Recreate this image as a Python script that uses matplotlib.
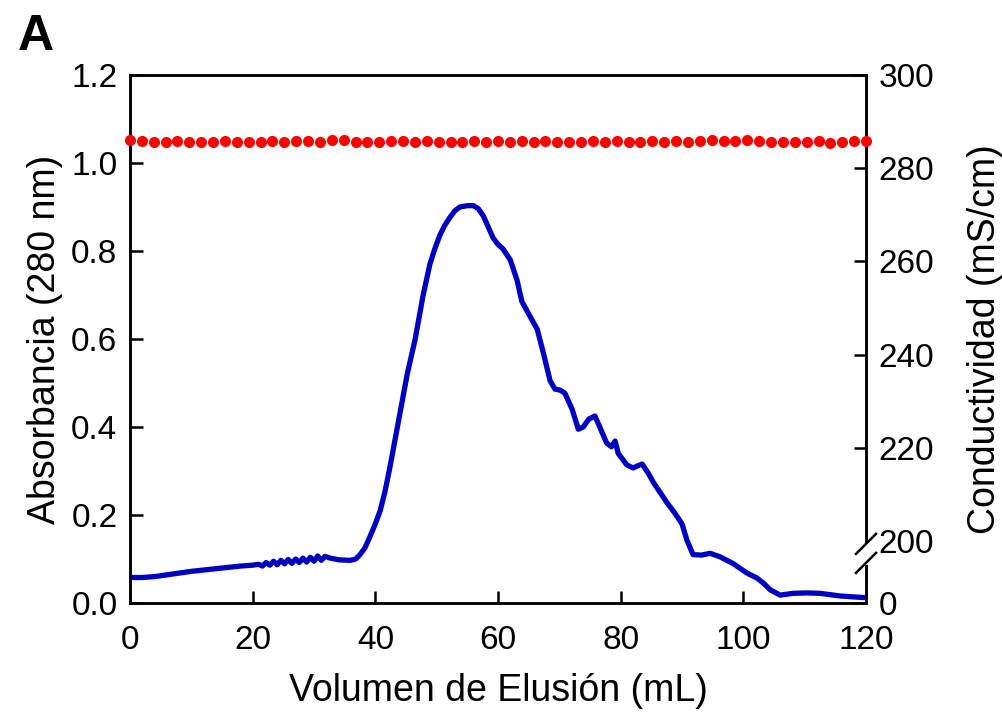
import numpy as np
import matplotlib
matplotlib.use("Agg")
import matplotlib.pyplot as plt
from matplotlib.scale import FuncScale

plt.rcParams['font.family'] = ['Liberation Sans', 'DejaVu Sans']

# absorbance trace (280 nm) vs elution volume
volume = [0, 2, 4, 6, 8, 10, 12, 14, 16, 18, 20,
          21.0, 21.6, 22.2, 22.8, 23.4, 24.0, 24.6, 25.2, 25.8, 26.4, 27.0,
          27.6, 28.2, 28.8, 29.4, 30.0, 30.6, 31.2, 31.8, 32.4, 33.0,
          34.2, 35.9, 36.8, 37.5, 38.3, 39.1, 40.0, 40.8, 41.6, 42.4, 43.2,
          44.0, 45.2, 46.5, 47.8, 48.9, 49.7, 50.5, 51.3, 52.2, 53.0, 53.8,
          55.0, 56.0, 56.8, 57.6, 58.4, 59.2, 60.0, 60.8, 62.0, 63.1, 63.9,
          65.2, 66.4, 67.4, 68.5, 69.3, 70.1, 70.9, 72.1, 73.1, 73.9, 74.8,
          75.8, 76.6, 77.7, 78.5, 79.1, 79.6, 81.0, 82.0, 83.5, 84.5, 85.3,
          86.5, 87.6, 88.8, 90.0, 90.8, 91.8, 93.2, 94.6, 96.2, 98.3, 100.6,
          102.2, 103.3, 104.4, 106.0, 108.1, 110.4, 112.5, 115.8, 120.0]
absorb = [0.058, 0.058, 0.060, 0.064, 0.068, 0.072, 0.075, 0.078, 0.081, 0.084, 0.086,
          0.088, 0.084, 0.092, 0.086, 0.095, 0.087, 0.097, 0.089, 0.099, 0.090, 0.100,
          0.092, 0.102, 0.093, 0.104, 0.095, 0.107, 0.097, 0.106, 0.103, 0.101,
          0.098, 0.097, 0.100, 0.110, 0.125, 0.150, 0.180, 0.210, 0.255, 0.310, 0.370,
          0.430, 0.520, 0.600, 0.700, 0.770, 0.805, 0.835, 0.858, 0.877, 0.892, 0.900,
          0.903, 0.903, 0.896, 0.880, 0.855, 0.830, 0.815, 0.805, 0.780, 0.734, 0.685,
          0.652, 0.622, 0.568, 0.505, 0.486, 0.484, 0.477, 0.440, 0.395, 0.400, 0.418,
          0.425, 0.400, 0.364, 0.355, 0.368, 0.340, 0.314, 0.307, 0.316, 0.295, 0.275,
          0.250, 0.227, 0.205, 0.180, 0.143, 0.110, 0.109, 0.113, 0.105, 0.090, 0.068,
          0.057, 0.045, 0.030, 0.018, 0.022, 0.023, 0.022, 0.016, 0.012]

# conductivity readings (red dots)
cond_vol = np.linspace(0, 120, 63)
cond = [286.0, 285.8, 285.7, 285.6, 285.9, 285.7, 285.7, 285.7, 285.8, 285.6,
        285.6, 285.7, 285.8, 285.7, 285.8, 285.8, 285.7, 286.0, 286.0, 285.7,
        285.6, 285.6, 285.8, 285.9, 285.7, 285.8, 285.6, 285.6, 285.7, 285.8,
        285.7, 285.8, 285.6, 285.8, 285.7, 285.8, 285.7, 285.7, 285.7, 285.8,
        285.7, 285.8, 285.7, 285.6, 285.8, 285.7, 285.8, 285.7, 285.8, 286.0,
        285.9, 285.8, 286.0, 285.9, 285.7, 285.7, 285.6, 285.6, 285.8, 285.5,
        285.7, 285.8, 285.8]

x_ticks = [0, 20, 40, 60, 80, 100, 120]
y_ticks = [0.0, 0.2, 0.4, 0.6, 0.8, 1.0, 1.2]
c_ticks = [0, 200, 220, 240, 260, 280, 300]


# broken right axis: 0-200 squeezed into the bottom strip
def fwd(v):
    v = np.asarray(v, dtype=float)
    return np.where(v < 200, v * 0.141 / 200, 0.141 + (v - 200) * 0.01059)


def inv(y):
    y = np.asarray(y, dtype=float)
    return np.where(y < 0.141, y * 200 / 0.141, 200 + (y - 0.141) / 0.01059)


fig = plt.figure(figsize=(10.03, 7.19), dpi=100)
ax = fig.add_axes([0.1296, 0.1613, 0.7338, 0.7344])
ax2 = ax.twinx()

ax.plot(volume, absorb, color='#0000c0', lw=3.8, zorder=3)
ax2.plot(cond_vol, cond, 'o', color='#ff0000', ms=7, clip_on=False, zorder=4)

ax.set_xlim(0, 120)
ax.set_ylim(0, 1.2)
ax.set_xticks(x_ticks)
ax.set_yticks(y_ticks)
ax.set_yticklabels([f"{t:.1f}" for t in y_ticks])

ax2.set_yscale(FuncScale(ax2, (fwd, inv)))
ax2.set_ylim(0, 300)
ax2.set_yticks(c_ticks)
ax2.set_yticklabels([str(t) for t in c_ticks])
ax2.yaxis.get_major_ticks()[1].tick2line.set_visible(False)

for a in (ax, ax2):
    for s in a.spines.values():
        s.set_linewidth(1.8)
ax.tick_params(direction='in', length=9, width=1.8, labelsize=24, pad=9)
ax.tick_params(axis='x', pad=16)
ax2.tick_params(direction='in', length=9, width=1.8, labelsize=24, pad=9)

ax.set_xlabel("Volumen de Elusión (mL)", fontsize=27, labelpad=12)
ax.set_ylabel("Absorbancia (280 nm)", fontsize=27, labelpad=6)
ax2.set_ylabel("Conductividad (mS/cm)", fontsize=27, labelpad=24)

# axis break marks on the right spine
ax2.plot([1, 1], [0.08, 0.108], transform=ax2.transAxes, color='white',
         lw=5, clip_on=False, zorder=5)
for yc in (0.112, 0.076):
    ax2.plot([1 - 0.0136, 1 + 0.0136], [yc - 0.019, yc + 0.019],
             transform=ax2.transAxes, color='black', lw=1.8,
             clip_on=False, zorder=6)

fig.text(0.018, 0.93, "A", fontsize=36, fontweight='bold')

fig.savefig("out.png", dpi=100)
